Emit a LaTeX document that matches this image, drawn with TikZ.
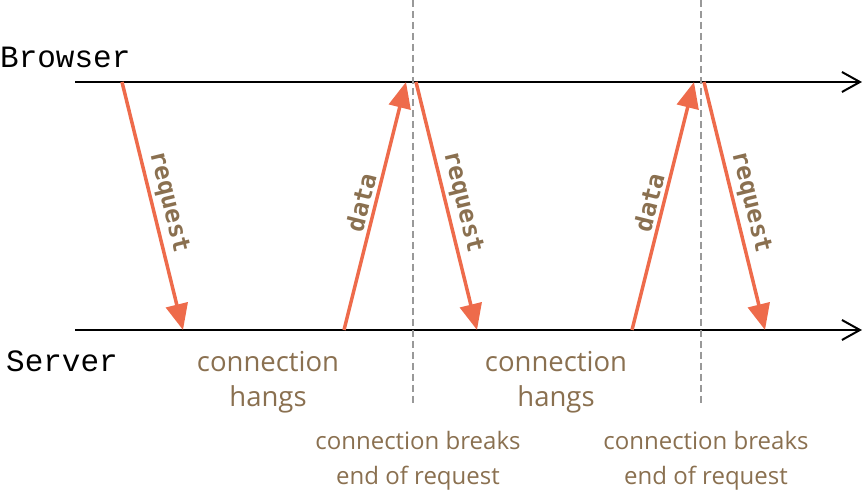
\documentclass[tikz,border=0pt]{standalone}
\usepackage{fontspec}
\setmainfont{Open Sans}
\setmonofont{Liberation Mono}
\newfontfamily\etiq{DejaVu Sans Mono}
\usetikzlibrary{arrows.meta}
\definecolor{flecha}{RGB}{238,107,75}
\definecolor{texto}{RGB}{138,112,80}

\begin{document}
\begin{tikzpicture}[x=1pt,y=1pt,
  eje/.style={line width=2pt, -{Straight Barb[length=18pt,width=20pt]}},
  mensaje/.style={flecha, line width=3.5pt, -{Triangle[length=26pt,width=22pt]}},
  corte/.style={gray!80, line width=1.5pt, dash pattern=on 7pt off 4pt},
  etiqueta/.style={texto, font=\etiq\bfseries\fontsize{24.5}{28}\selectfont, sloped, above, midway},
  nota/.style={texto, align=center, anchor=base, font=\fontsize{27.5}{35}\selectfont},
  nota chica/.style={texto, align=center, anchor=base, font=\fontsize{24}{35}\selectfont}]
  \useasboundingbox (0,0) rectangle (863,492);

  % Ejes de tiempo
  \node[anchor=base west, inner sep=0pt, font=\ttfamily\fontsize{31}{36}\selectfont] (browser) at (0,424) {Browser};
  \node[anchor=base west, inner sep=0pt, font=\ttfamily\fontsize{31}{36}\selectfont] (server) at (6,120) {Server};
  \coordinate (b0) at (75,410);
  \coordinate (b1) at (862,410);
  \coordinate (s0) at (75,162);
  \coordinate (s1) at (862,162);
  \draw[eje] (b0) -- (b1);
  \draw[eje] (s0) -- (s1);

  % Cortes de la conexion
  \foreach \x/\n in {413/1,701/2} {
    \coordinate (corte\n a) at (\x,492);
    \coordinate (corte\n b) at (\x,87);
    \draw[corte] (corte\n a) -- (corte\n b);
    \node[nota chica] (fin\n) at (\x+5,7) {connection breaks\\end of request};
  }

  % Primera peticion
  \coordinate (p0) at (122,410);
  \coordinate (q0) at (183,162);
  \draw[mensaje] (p0) -- (q0) node[etiqueta] {request};

  % Datos y nuevas peticiones
  \foreach \d [count=\n] in {0,288} {
    \coordinate (d\n) at (344+\d,162);
    \coordinate (e\n) at (406+\d,410);
    \coordinate (p\n) at (416+\d,410);
    \coordinate (q\n) at (477+\d,162);
    \draw[mensaje] (d\n) -- (e\n) node[etiqueta] {data};
    \draw[mensaje] (p\n) -- (q\n) node[etiqueta] {request};
    \node[nota] (espera\n) at (268+\d,85) {connection\\hangs};
  }
\end{tikzpicture}
\end{document}
